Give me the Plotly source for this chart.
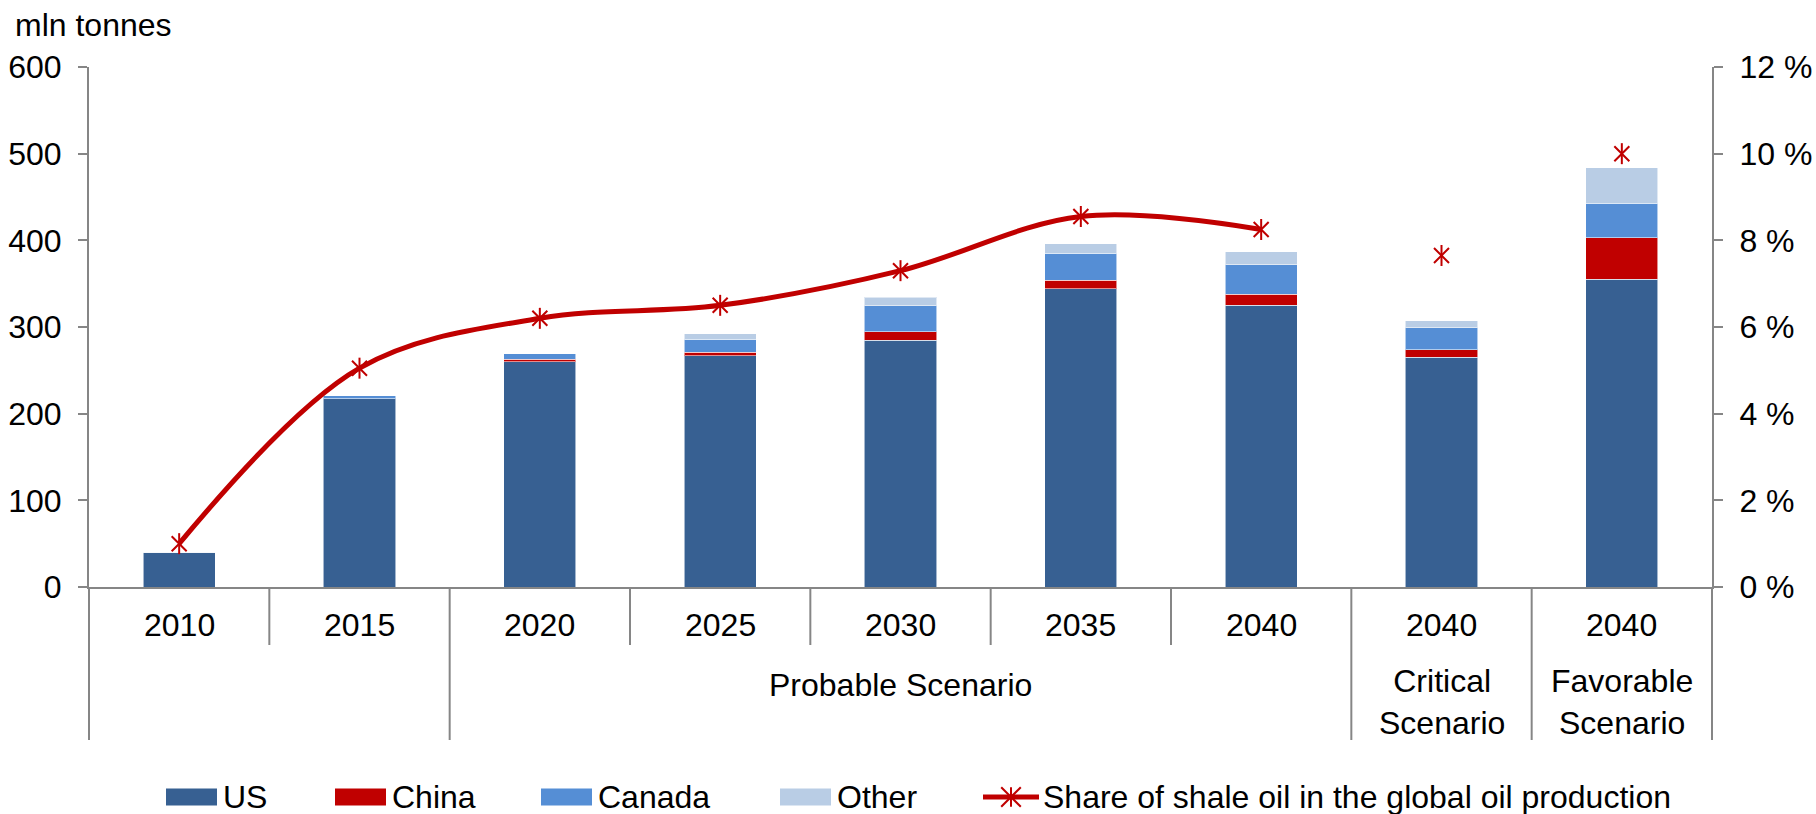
import plotly.graph_objects as go

# ---- data -------------------------------------------------------------
years = ["2010", "2015", "2020", "2025", "2030", "2035", "2040", "2040", "2040"]
scenario_groups = [
    ("", 0, 1),
    ("Probable Scenario", 2, 6),
    ("Critical<br>Scenario", 7, 7),
    ("Favorable<br>Scenario", 8, 8),
]
us = [40, 217, 260, 267, 285, 344, 325, 265, 355]
china = [0, 0, 3, 4, 9.5, 10, 13, 9, 48]
canada = [0, 3.5, 6, 15, 30, 31, 34, 25, 40]
other = [0, 0, 0, 6, 10, 11, 15, 8, 41]
share = [1.0, 5.05, 6.2, 6.5, 7.3, 8.55, 8.25, 7.65, 10.0]
probable_end = 6  # last index of the smoothed share line

series = [
    ("US", us, "#376092"),
    ("China", china, "#C00000"),
    ("Canada", canada, "#558ED5"),
    ("Other", other, "#B9CDE5"),
]
LINE_NAME = "Share of shale oil in the global oil production"
RED = "#C00000"
AXIS_GREY = "#868686"
FONT = "Liberation Sans, Arial, sans-serif"
FS = 32

# ---- canvas geometry ----------------------------------------------------
W, H = 1816, 814
PL, PR, PT, PB = 89, 1712, 67, 587


def px(x):
    return (x - PL) / (PR - PL)


def py(y):
    return (PB - y) / (PB - PT)


xs = list(range(len(years)))

fig = go.Figure()
for name, vals, color in series:
    fig.add_trace(go.Bar(
        x=xs, y=vals, name=name, width=0.4,
        marker=dict(color=color, line=dict(color="rgba(255,255,255,0.55)", width=1)),
        showlegend=False,
    ))

# smoothed share line for the probable scenario
fig.add_trace(go.Scatter(
    x=xs[:probable_end + 1], y=share[:probable_end + 1], yaxis="y2",
    mode="lines", line=dict(color=RED, width=5, shape="spline", smoothing=1),
    showlegend=False, hoverinfo="skip",
))
# star markers: an X plus a vertical stroke
for sym in ("x-thin-open", "line-ns-open"):
    fig.add_trace(go.Scatter(
        x=xs, y=share, yaxis="y2", mode="markers", name=LINE_NAME,
        marker=dict(symbol=sym, size=15, line=dict(color=RED, width=2), color=RED),
        showlegend=False, cliponaxis=False,
    ))

shapes = []
annotations = []

# category dividers below the axis
long_edges = {0, 2, 7, 8, 9}
for k in range(len(years) + 1):
    bottom = 740 if k in long_edges else 645
    shapes.append(dict(type="line", xref="paper", yref="paper",
                       x0=k / len(years), x1=k / len(years), y0=0, y1=py(bottom),
                       line=dict(color=AXIS_GREY, width=2)))

# year labels
for i, yr in enumerate(years):
    annotations.append(dict(x=i, y=py(625), xref="x", yref="paper", text=yr,
                            showarrow=False, xanchor="center", yanchor="middle",
                            font=dict(size=FS, color="black", family=FONT)))

# scenario labels
for label, a, b in scenario_groups:
    if not label:
        continue
    yc = 685 if "<br>" not in label else 702
    annotations.append(dict(x=(a + b) / 2, y=py(yc), xref="x", yref="paper", text=label,
                            showarrow=False, xanchor="center", yanchor="middle",
                            font=dict(size=FS, color="black", family=FONT)))

# axis title
annotations.append(dict(x=px(13), y=py(25), xref="paper", yref="paper", text="mln tonnes",
                        showarrow=False, xanchor="left", yanchor="middle",
                        font=dict(size=FS, color="black", family=FONT)))

# legend
LEG_Y = 797
sw_w, sw_h = 51, 17
legend_x = [166, 335, 541, 780]
for (name, _, color), x0 in zip(series, legend_x):
    shapes.append(dict(type="rect", xref="paper", yref="paper",
                       x0=px(x0), x1=px(x0 + sw_w), y0=py(LEG_Y + sw_h / 2), y1=py(LEG_Y - sw_h / 2),
                       fillcolor=color, line=dict(width=0)))
    annotations.append(dict(x=px(x0 + sw_w + 4), y=py(LEG_Y), xref="paper", yref="paper",
                            text=name, showarrow=False, xanchor="left", yanchor="middle",
                            font=dict(size=FS, color="black", family=FONT)))
lx0, lx1 = 983, 1039
shapes.append(dict(type="line", xref="paper", yref="paper", x0=px(lx0), x1=px(lx1),
                   y0=py(LEG_Y), y1=py(LEG_Y), line=dict(color=RED, width=5)))
cx, r = (lx0 + lx1) / 2, 9.8
for dx0, dy0, dx1, dy1 in ((-r, -r, r, r), (-r, r, r, -r), (0, -r, 0, r)):
    shapes.append(dict(type="line", xref="paper", yref="paper",
                       x0=px(cx + dx0), x1=px(cx + dx1), y0=py(LEG_Y + dy0), y1=py(LEG_Y + dy1),
                       line=dict(color=RED, width=2)))
annotations.append(dict(x=px(lx1 + 2), y=py(LEG_Y), xref="paper", yref="paper",
                        text=LINE_NAME, showarrow=False, xanchor="left", yanchor="middle",
                        font=dict(size=FS, color="black", family=FONT)))

fig.update_layout(
    width=W, height=H,
    margin=dict(l=PL, r=W - PR, t=PT, b=H - PB, pad=0, autoexpand=False),
    barmode="stack",
    plot_bgcolor="white", paper_bgcolor="white",
    font=dict(family=FONT, size=FS, color="black"),
    showlegend=False,
    xaxis=dict(range=[-0.5, len(years) - 0.5], showticklabels=False, ticks="",
               showgrid=False, zeroline=False, showline=True, linecolor=AXIS_GREY, linewidth=2,
               fixedrange=True, automargin=False),
    yaxis=dict(range=[0, 600], dtick=100, ticks="outside", ticklen=9, tickcolor=AXIS_GREY,
               tickwidth=2, showline=True, linecolor=AXIS_GREY, linewidth=2, automargin=False,
               showgrid=False, zeroline=False, tickfont=dict(size=FS), ticklabelstandoff=10),
    yaxis2=dict(range=[0, 12], dtick=2, ticksuffix=" %", overlaying="y", side="right",
                ticks="outside", ticklen=9, tickcolor=AXIS_GREY, tickwidth=2, automargin=False,
                showline=True, linecolor=AXIS_GREY, linewidth=2,
                showgrid=False, zeroline=False, tickfont=dict(size=FS), ticklabelstandoff=10),
    shapes=shapes,
    annotations=annotations,
)

fig.write_html("out.html")
